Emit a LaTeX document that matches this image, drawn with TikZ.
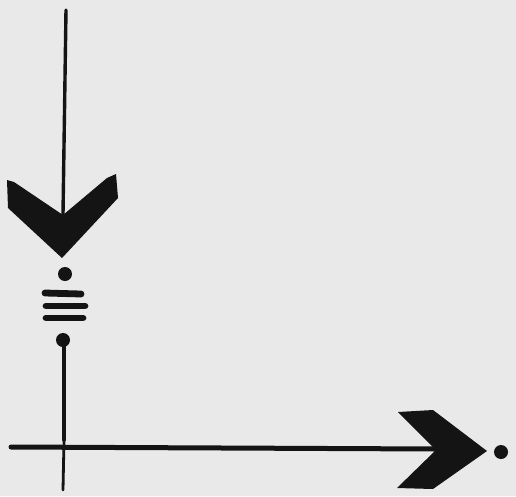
\documentclass[tikz,border=0pt]{standalone}
\usepackage{tikz}
\definecolor{paper}{HTML}{E9E9EA}
\definecolor{ink}{HTML}{141414}
\tikzset{
  stroke/.style={draw=ink, line cap=round},
  blob/.style={fill=ink},
}
\begin{document}
\begin{tikzpicture}[x=1pt,y=-1pt]
\fill[paper] (0,0) rectangle (516,496);
\useasboundingbox (0,0) rectangle (516,496);
% coordinates
\coordinate (vtop) at (66,10);
\coordinate (vchev) at (63,214);
\coordinate (vlow) at (64,346);
\coordinate (vbot) at (63,490);
\coordinate (hleft) at (11,447);
\coordinate (hchev) at (436,449);
% vertical line
\draw[stroke, line width=3.4pt] (vtop) -- (vchev);
\draw[stroke, line width=3.4pt] (vlow) -- (64,440);
\draw[stroke, line width=2.8pt] (64,440) -- (vbot);
% horizontal line
\draw[stroke, line width=5pt] (hleft) -- (hchev);
% down chevron
\fill[blob] (7,180) -- (14,182) -- (63,215) -- (107,178) -- (116,174)
  -- (118,198) -- (62,258) -- (8,208) -- cycle;
% dots and bars
\fill[blob] (65,274) circle (7);
\fill[blob] (63,340) circle (7);
\draw[stroke, line width=6.8pt] (45,293) -- (81,294);
\draw[stroke, line width=6.8pt] (46,306) -- (85,306);
\draw[stroke, line width=6.8pt] (46,318) -- (83,318);
% right chevron
\fill[blob] (398,412) -- (433,410) -- (487,451) -- (433,489) -- (397,488)
  -- (436,450) -- cycle;
\fill[blob] (501,452) circle (7);
\end{tikzpicture}
\end{document}
